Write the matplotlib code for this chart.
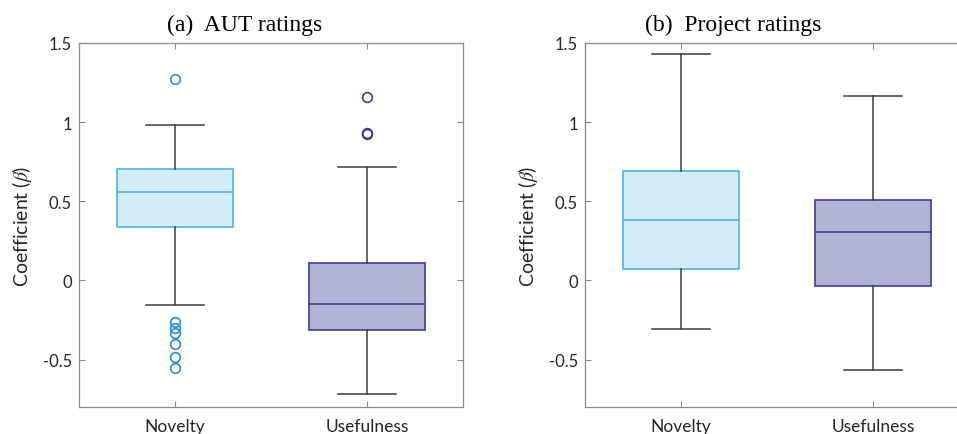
import matplotlib
matplotlib.use("Agg")
import matplotlib.pyplot as plt

plt.rcParams['font.family'] = ['Lato', 'DejaVu Sans']
plt.rcParams['mathtext.fontset'] = 'stix'

# Box statistics
categories = ['Novelty', 'Usefulness']

aut_q1 = [0.335, -0.312]
aut_med = [0.559, -0.147]
aut_q3 = [0.704, 0.112]
aut_lo = [-0.156, -0.715]
aut_hi = [0.983, 0.715]
aut_fliers = [
    [1.272, -0.261, -0.300, -0.335, -0.399, -0.481, -0.553],
    [1.160, 0.930, 0.924],
]

proj_q1 = [0.072, -0.038]
proj_med = [0.382, 0.308]
proj_q3 = [0.692, 0.506]
proj_lo = [-0.310, -0.568]
proj_hi = [1.430, 1.166]
proj_fliers = [[], []]

face_colors = ['#d2edf9', '#b2b2d4']
edge_colors = ['#4fb2e9', '#3d3d94']
flier_colors = ['#2a8bd6', '#3d3d94']


def make_stats(q1, med, q3, lo, hi, fliers):
    return [
        {'q1': q1[i], 'med': med[i], 'q3': q3[i], 'whislo': lo[i],
         'whishi': hi[i], 'fliers': fliers[i], 'label': categories[i]}
        for i in range(len(categories))
    ]


def draw_panel(ax, stats, title, title_x):
    bp = ax.bxp(stats, positions=[1, 2], widths=0.6, patch_artist=True,
                showfliers=True)
    for i, box in enumerate(bp['boxes']):
        box.set_facecolor(face_colors[i])
        box.set_edgecolor(edge_colors[i])
        box.set_linewidth(1.2)
    for i, med in enumerate(bp['medians']):
        med.set_color(edge_colors[i])
        med.set_linewidth(1.2)
    for w in bp['whiskers'] + bp['caps']:
        w.set_color('#3a3a3a')
        w.set_linewidth(1.1)
    for i, fl in enumerate(bp['fliers']):
        fl.set_marker('o')
        fl.set_markerfacecolor('none')
        fl.set_markeredgecolor(flier_colors[i])
        fl.set_markersize(7)
        fl.set_markeredgewidth(1.2)

    ax.set_xlim(0.5, 2.5)
    ax.set_ylim(-0.8, 1.5)
    ax.set_yticks([-0.5, 0, 0.5, 1, 1.5])
    ax.set_yticklabels(['-0.5', '0', '0.5', '1', '1.5'])
    ax.set_xticks([1, 2])
    ax.set_xticklabels(categories)
    ax.tick_params(direction='in', top=True, right=True, length=4,
                   width=0.8, color='#888888', labelsize=12,
                   labelcolor='#262626', pad=5)
    ax.tick_params(axis='x', labelsize=12.5, pad=8)
    for sp in ax.spines.values():
        sp.set_color('#8a8a8a')
        sp.set_linewidth(0.9)
    ax.set_ylabel(r'Coefficient ($\beta$)', fontsize=14, color='#262626',
                  labelpad=6)
    ax.text(title_x, 1.022, title, transform=ax.transAxes, ha='center',
            va='bottom', fontsize=17, family='Liberation Serif')


fig = plt.figure(figsize=(9.57, 4.35), dpi=100)
ax1 = fig.add_axes([79 / 957, 27 / 435, 384 / 957, 364 / 435])
ax2 = fig.add_axes([585 / 957, 27 / 435, 384 / 957, 364 / 435])

draw_panel(ax1, make_stats(aut_q1, aut_med, aut_q3, aut_lo, aut_hi, aut_fliers),
           '(a)  AUT ratings', 0.432)
draw_panel(ax2, make_stats(proj_q1, proj_med, proj_q3, proj_lo, proj_hi, proj_fliers),
           '(b)  Project ratings', 0.385)

fig.savefig('out.png', dpi=100)
